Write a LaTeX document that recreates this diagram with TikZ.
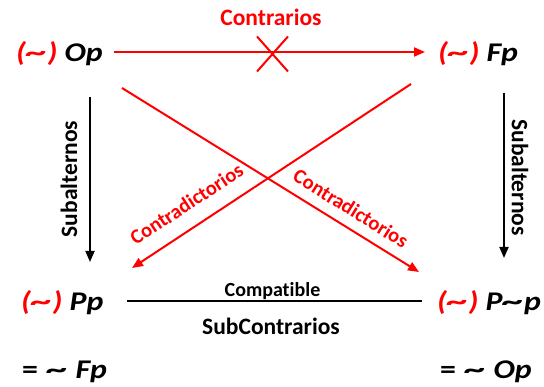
\documentclass[tikz,border=0pt]{standalone}
\usepackage{fontspec}
\setmainfont{Carlito}[Ligatures=NoCommon]
\newfontfamily\termfont{Carlito}[FakeStretch=1.18,Ligatures=NoCommon]
\usetikzlibrary{arrows.meta}
\newcommand\tld{\scalebox{1.35}[1]{\textasciitilde}}
\newcommand\rtld{\textcolor{red}{(\tld)}}

\begin{document}
\begin{tikzpicture}[x=1pt,y=-1pt,
  term/.style={font=\fontsize{27}{29}\termfont\bfseries\itshape,inner sep=0pt,anchor=base west},
  lbl/.style={font=\fontsize{23.5}{25}\selectfont\bfseries,inner sep=0pt},
  small/.style={font=\fontsize{20.5}{22}\selectfont\bfseries},
  contra/.style={red,line width=2pt,-{Triangle[length=11pt,width=9pt]}},
  subal/.style={black,line width=1.8pt,-{Triangle[length=11pt,width=9pt]}}]
  \useasboundingbox (0,0) rectangle (544,387);
  % the four corners
  \node[term] (op) at (16,62) {\rtld\ Op};
  \node[term] (fp) at (438,62) {\rtld\ Fp};
  \node[term] (pp) at (21,311) {\rtld\ Pp};
  \node[term] (pn) at (437,311) {\rtld\ P\tld p};
  \node[term] (eqfp) at (22,379) {\upshape=\hspace{.28em}\tld\hspace{.32em}\itshape Fp};
  \node[term] (eqop) at (440,379) {\upshape=\hspace{.28em}\tld\hspace{.32em}\itshape Op};
  % line ends
  \coordinate (opR) at (114,52);
  \coordinate (fpL) at (425,52);
  \coordinate (opB) at (90,97);
  \coordinate (ppT) at (90,262);
  \coordinate (fpB) at (504,93);
  \coordinate (pnT) at (504,258);
  \coordinate (opX) at (122,88);
  \coordinate (pnX) at (419,272);
  \coordinate (fpX) at (411,84);
  \coordinate (ppX) at (132,268);
  \coordinate (ppR) at (127,301);
  \coordinate (pnL) at (422,301);
  \coordinate (M) at (272.5,54);
  % connectors
  \draw[contra] (opR) -- (fpL);
  \draw[red,line width=2pt] (M) ++(-15.5,-17.5) -- ++(31,35)
    (M) ++(15.5,-17.5) -- ++(-31,35);
  \draw[subal] (opB) -- (ppT);
  \draw[subal] (fpB) -- (pnT);
  \draw[contra] (opX) -- (pnX);
  \draw[contra] (fpX) -- (ppX);
  \draw[black,line width=1.8pt] (ppR) -- (pnL);
  % labels
  \node[lbl,red] (ctr) at (271,17) {Contrarios};
  \node[lbl,rotate=90] (subl) at (69,179) {Subalternos};
  \node[lbl,rotate=-90] (subr) at (520,177.5) {Subalternos};
  \node[lbl,small,red,rotate=33.4] (cdl) at (186.5,204) {Contradictorios};
  \node[lbl,small,red,rotate=-31.9] (cdr) at (351,208.5) {Contradictorios};
  \node[lbl,font=\fontsize{20}{22}\selectfont\bfseries] (cmp) at (272.5,291) {Compatible};
  \node[lbl] (subc) at (271,326) {SubContrarios};
\end{tikzpicture}
\end{document}
